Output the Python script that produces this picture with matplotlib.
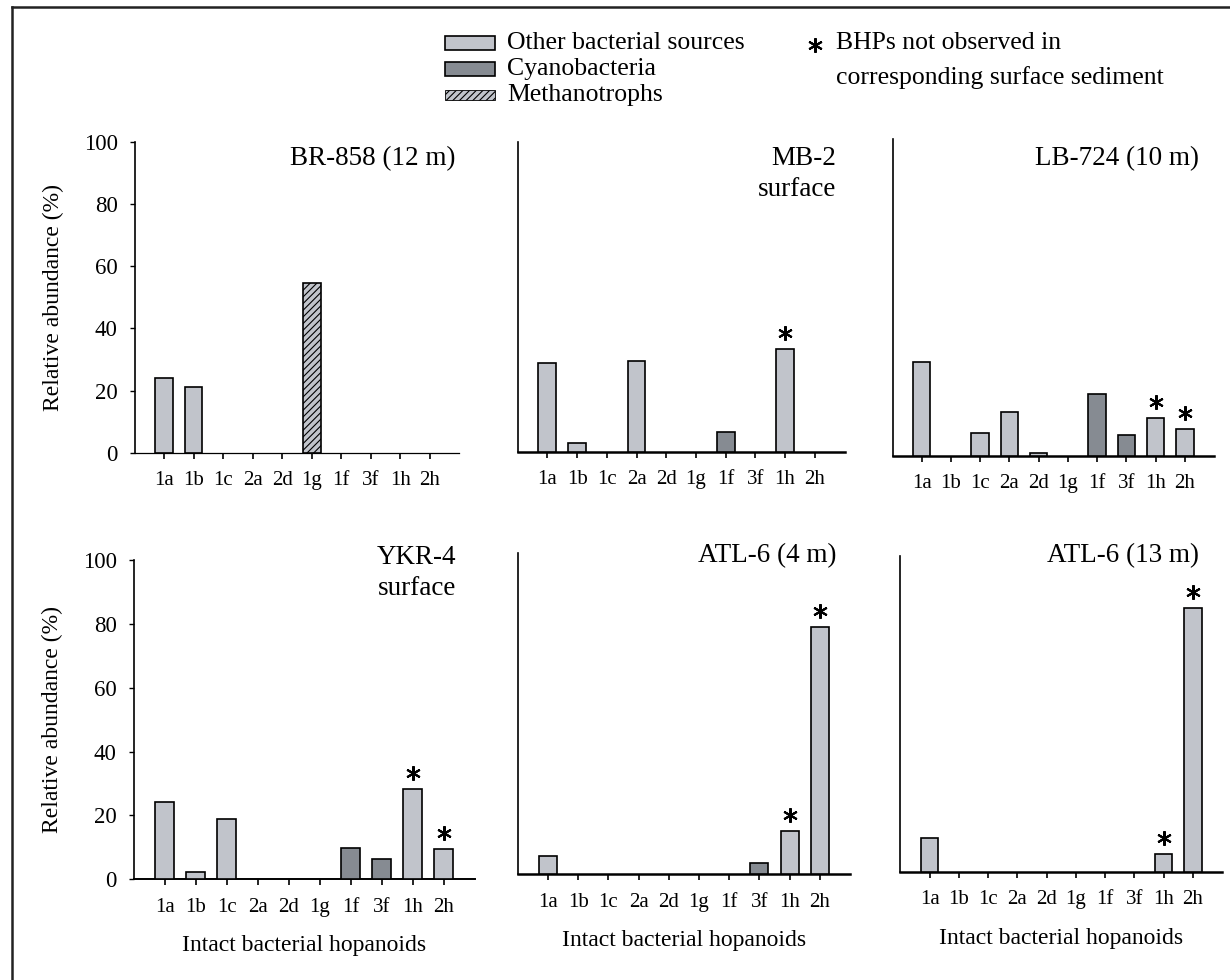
import numpy as np
import matplotlib
matplotlib.use('Agg')
import matplotlib.pyplot as plt
from matplotlib.patches import Rectangle
from matplotlib.lines import Line2D
from matplotlib.transforms import offset_copy

plt.rcParams['font.family'] = ['Liberation Serif', 'DejaVu Serif']
plt.rcParams['hatch.linewidth'] = 0.8

# data (relative abundance, %)
hopanoids = ['1a', '1b', '1c', '2a', '2d', '1g', '1f', '3f', '1h', '2h']
source = ['other', 'other', 'other', 'other', 'other',
          'methano', 'cyano', 'cyano', 'other', 'other']

br858 = [24.2, 21.2, 0, 0, 0, 54.7, 0, 0, 0, 0]
mb2 = [28.6, 2.8, 0, 29.4, 0, 0, 6.4, 0, 33.1, 0]
lb724 = [29.5, 0, 7.3, 14.0, 0.8, 0, 19.7, 6.6, 12.1, 8.6]
ykr4 = [24.2, 2.4, 18.8, 0, 0, 0, 9.8, 6.5, 28.3, 9.4]
atl6_4m = [5.8, 0, 0, 0, 0, 0, 0, 3.6, 13.4, 77.1]
atl6_13m = [10.9, 0, 0, 0, 0, 0, 0, 0, 5.8, 83.4]

sites = ['BR-858 (12 m)', 'MB-2\nsurface', 'LB-724 (10 m)',
         'YKR-4\nsurface', 'ATL-6 (4 m)', 'ATL-6 (13 m)']
not_in_surface = [[], ['1h'], ['1h', '2h'], ['1h', '2h'], ['1h', '2h'], ['1h', '2h']]

legend_labels = ['Other bacterial sources', 'Cyanobacteria', 'Methanotrophs']
legend_sources = ['other', 'cyano', 'methano']
star_note = ['BHPs not observed in', 'corresponding surface sediment']

fill = {'other': '#c1c4cb', 'cyano': '#868b92', 'methano': '#c1c4cb'}
hatch = {'other': None, 'cyano': None, 'methano': '/////'}

W, H = 1230, 980


def px_rect(l, r, t, b):
    return [l / W, 1 - b / H, (r - l) / W, (b - t) / H]


rects = [px_rect(134.5, 459.5, 142, 452.7),
         px_rect(517.7, 844.5, 142, 452),
         px_rect(892.5, 1214, 139, 456),
         px_rect(133.6, 474.5, 560, 879.3),
         px_rect(517.7, 850, 553.3, 874.3),
         px_rect(900.4, 1222, 556, 872)]
title_pos = [(456, 165), (836, 165), (1199, 165),
             (456, 564), (836, 562), (1199, 562)]
xspine_w = [0.9, 1.8, 1.8, 1.4, 1.8, 1.8]

fig = plt.figure(figsize=(12.3, 9.8), dpi=100)
panels = [br858, mb2, lb724, ykr4, atl6_4m, atl6_13m]
x = np.arange(len(hopanoids))

for k, vals in enumerate(panels):
    ax = fig.add_axes(rects[k])
    bars = ax.bar(x, vals, width=0.6, color=[fill[s] for s in source],
                  edgecolor='black', linewidth=1.2, zorder=3)
    for b, s, v in zip(bars, source, vals):
        if hatch[s]:
            b.set_hatch(hatch[s])
        if v == 0:
            b.set_visible(False)
    ax.set_xlim(-1, len(hopanoids))
    ax.set_ylim(0, 100)
    ax.spines['top'].set_visible(False)
    ax.spines['right'].set_visible(False)
    ax.spines['bottom'].set_linewidth(xspine_w[k])
    ax.spines['left'].set_linewidth(1.2)
    ax.set_xticks(x)
    ax.set_xticklabels(hopanoids)
    ax.tick_params(axis='x', direction='out', length=4.3, width=1.2,
                   pad=9, labelsize=15)
    if k % 3 == 0:
        ax.set_yticks(np.arange(0, 101, 20))
        ax.tick_params(axis='y', direction='out', length=3.6, width=1.0,
                       pad=8.5, labelsize=16.5)
        ax.set_ylabel('Relative abundance (%)', fontsize=17, labelpad=14)
    else:
        ax.set_yticks([])
    if k >= 3:
        ax.set_xlabel('Intact bacterial hopanoids', fontsize=17, labelpad=13)

    # asterisks above the bars
    trans = offset_copy(ax.transData, fig=fig, y=16, units='dots')
    for h in not_in_surface[k]:
        i = hopanoids.index(h)
        ax.plot(i, vals[i], marker=(6, 2, 0), ms=10.5, mew=1.5, color='black',
                transform=trans, clip_on=False, zorder=4)

    rx, by = title_pos[k]
    for j, line in enumerate(sites[k].split('\n')):
        fig.text(rx / W, 1 - (by + 31 * j) / H, line, ha='right',
                 va='baseline', fontsize=19.5)

# legend
for j, (lab, s) in enumerate(zip(legend_labels, legend_sources)):
    yc = 43 + 26 * j
    hgt = 14 if s != 'methano' else 10
    fig.add_artist(Rectangle((445 / W, 1 - (yc + hgt / 2) / H), 50 / W, hgt / H,
                             transform=fig.transFigure, facecolor=fill[s],
                             edgecolor='black', linewidth=1.2 if s != 'methano' else 0.6,
                             hatch=hatch[s]))
    fig.text(507 / W, 1 - yc / H, lab, va='center', fontsize=18.5)

fig.add_artist(Line2D([815 / W], [1 - 45 / H], marker=(6, 2, 0), ms=10.5, mew=1.5,
                      color='black', transform=fig.transFigure))
for j, line in enumerate(star_note):
    fig.text(836 / W, 1 - (43 + 35 * j) / H, line, va='center', fontsize=18.5)

# frame lines (top and left visible)
fig.add_artist(Line2D([12 / W, 12 / W], [0, 1 - 7.5 / H], color='#222222',
                      linewidth=1.8, transform=fig.transFigure))
fig.add_artist(Line2D([12 / W, 1], [1 - 7.5 / H, 1 - 7.5 / H], color='#222222',
                      linewidth=1.8, transform=fig.transFigure))

fig.savefig('out.png', dpi=100)
